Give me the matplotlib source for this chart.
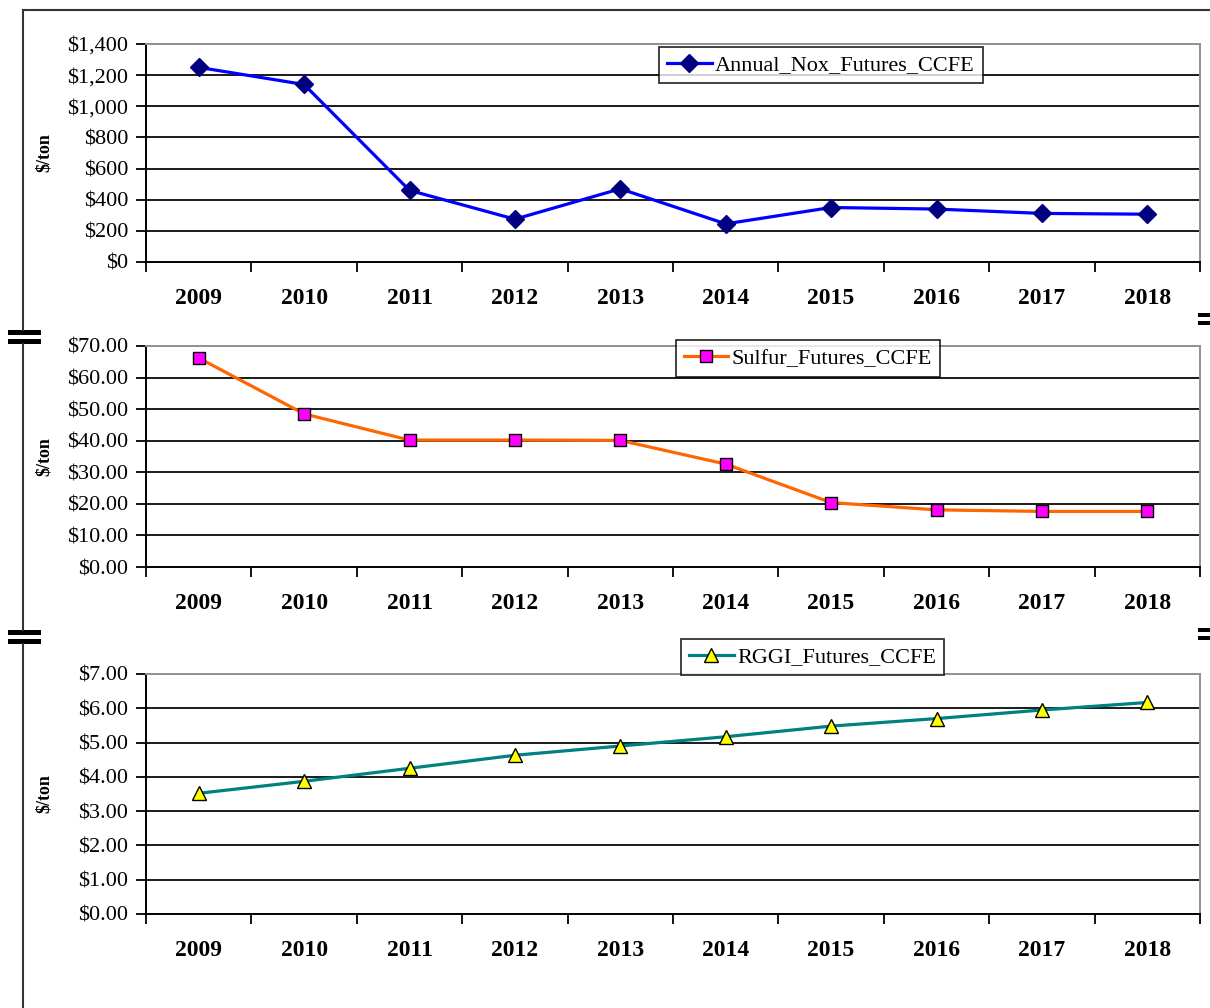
import numpy as np
import matplotlib
matplotlib.use("Agg")
import matplotlib.pyplot as plt
from matplotlib.lines import Line2D
from matplotlib.patches import Rectangle
from matplotlib.ticker import FixedLocator, FuncFormatter

plt.rcParams['font.family'] = ['Liberation Serif', 'DejaVu Serif']

years = ["2009", "2010", "2011", "2012", "2013", "2014", "2015", "2016", "2017", "2018"]
noxValues = [1250, 1140, 460, 275, 470, 245, 350, 340, 312, 307]
sulfurValues = [66.2, 48.5, 40.2, 40.2, 40.1, 32.6, 20.4, 18.1, 17.6, 17.6]
rggiValues = [3.52, 3.87, 4.25, 4.63, 4.90, 5.17, 5.48, 5.70, 5.95, 6.17]

W, H = 1210, 1008
fig = plt.figure(figsize=(W / 100, H / 100), dpi=100)


def fx(px):
    return px / W


def fy(py):
    return 1 - py / H


def PlotPanel(top, bottom, values, ymax, ystep, fmt, label, color, marker, mfc, ms, legendBox):
    ax = fig.add_axes([fx(146), fy(bottom), fx(1054), (bottom - top) / H])
    x = np.arange(len(values))
    ax.plot(x, values, color=color, lw=2.3, marker=marker, ms=ms, mfc=mfc,
            mec='black' if mfc != '#000080' else '#000080', mew=1.0, label=label, zorder=3)
    ax.set_xlim(-0.5, len(values) - 0.5)
    ax.set_ylim(0, ymax)
    ticks = np.arange(0, ymax + ystep / 2, ystep)
    ax.set_yticks(ticks)
    ax.yaxis.set_major_formatter(FuncFormatter(fmt))
    for t in ticks[1:-1]:
        ax.axhline(t, color='#1a1a1a', lw=1.4, zorder=1)
    ax.xaxis.set_major_locator(FixedLocator(np.arange(-0.5, len(values), 1.0)))
    ax.xaxis.set_minor_locator(FixedLocator(x))
    ax.set_xticklabels([])
    ax.set_xticklabels(years, minor=True, fontweight='bold', fontsize=17)
    ax.tick_params(axis='x', which='major', length=7, width=1.3, direction='out', color='black')
    ax.tick_params(axis='x', which='minor', length=0, pad=19)
    ax.tick_params(axis='y', length=7, width=1.3, direction='out', labelsize=16, pad=6)
    for s in ['left', 'bottom']:
        ax.spines[s].set_color('black')
        ax.spines[s].set_linewidth(1.4)
    for s in ['top', 'right']:
        ax.spines[s].set_color('#909090')
        ax.spines[s].set_linewidth(1.4)
    ax.set_ylabel("$/ton", fontweight='bold', fontsize=13)
    ax.yaxis.set_label_coords(-(146 - 53) / 1054, 0.5)
    x0, y0, x1, y1 = legendBox
    leg = ax.legend(loc='center', bbox_to_anchor=(fx(x0), fy(y1), fx(x1 - x0), (y1 - y0) / H),
                    bbox_transform=fig.transFigure, fontsize=16, frameon=True, fancybox=False,
                    edgecolor='black', handlelength=2.0, handletextpad=0.15, borderpad=0.35,
                    borderaxespad=0)
    leg.get_frame().set_linewidth(1.3)
    leg.set_zorder(5)
    return ax


PlotPanel(44, 262, noxValues, 1400, 200, lambda v, p: "${:,.0f}".format(v),
          "Annual_Nox_Futures_CCFE", '#0000FF', 'D', '#000080', 9, (662, 46, 980, 84))
PlotPanel(346, 567, sulfurValues, 70, 10, lambda v, p: "${:.2f}".format(v),
          "Sulfur_Futures_CCFE", '#FF6600', 's', '#FF00FF', 8, (679, 340, 937, 377))
PlotPanel(674, 914, rggiValues, 7, 1, lambda v, p: "${:.2f}".format(v),
          "RGGI_Futures_CCFE", '#008080', '^', '#FFFF00', 9.5, (682, 638, 943, 676))

# outer frame with break marks
frameColor = '#333333'
fig.add_artist(Line2D([fx(23), fx(1210)], [fy(10), fy(10)], color=frameColor, lw=1.5))
for a, b in [(10, 330), (344, 630), (644, 1008)]:
    fig.add_artist(Line2D([fx(23), fx(23)], [fy(a), fy(b)], color=frameColor, lw=1.5))
for yTop in [330, 339, 630, 639]:
    fig.add_artist(Rectangle((fx(8), fy(yTop + 5)), fx(33), 5 / H, color='black', lw=0))
for yTop in [313, 321, 628, 636]:
    fig.add_artist(Rectangle((fx(1198), fy(yTop + 4)), fx(12), 4 / H, color='black', lw=0))

plt.savefig("out.png", dpi=100)
